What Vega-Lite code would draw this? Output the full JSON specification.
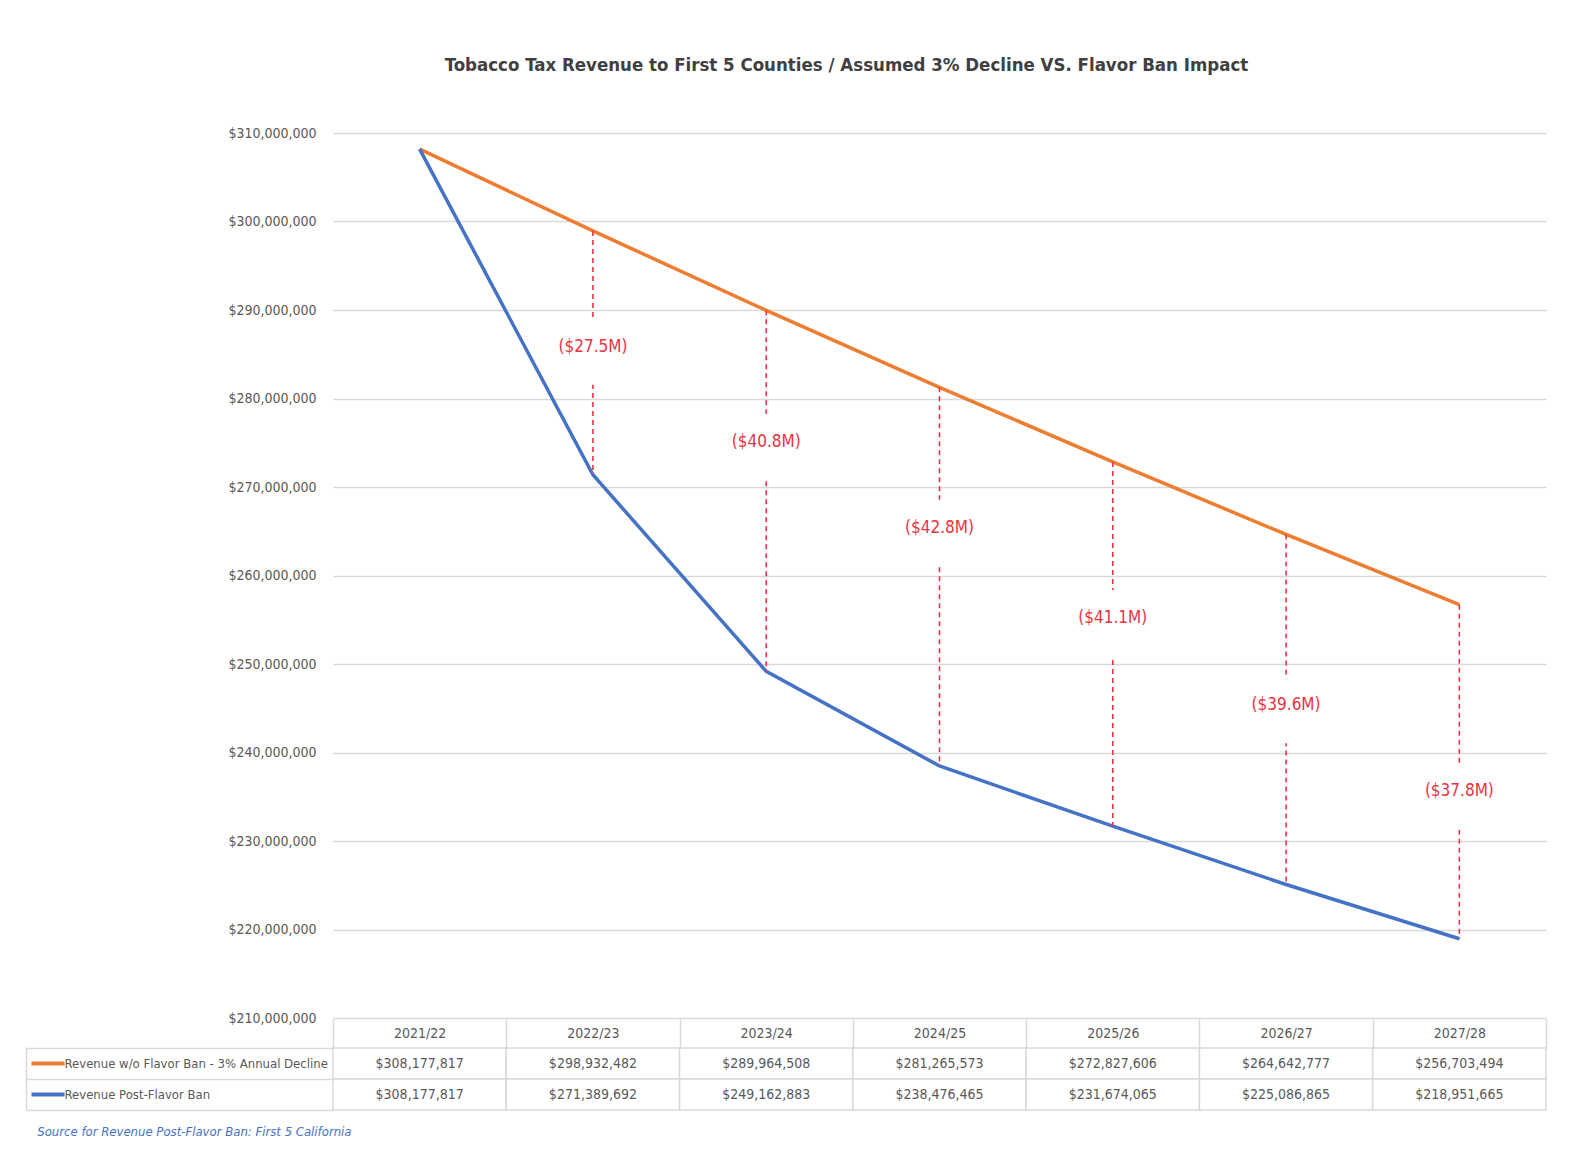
{
  "$schema": "https://vega.github.io/schema/vega-lite/v6.json",
  "padding": {"left": 25, "top": 55, "right": 10, "bottom": 10},
  "autosize": {"type": "pad"},
  "config": {
    "font": "DejaVu Sans Condensed, Liberation Sans Narrow, sans-serif",
    "view": {"stroke": null}
  },
  "title": {
    "text": "Tobacco Tax Revenue to First 5 Counties / Assumed 3% Decline VS. Flavor Ban Impact",
    "fontSize": 18.5,
    "fontWeight": "bold",
    "color": "#404040",
    "anchor": "middle",
    "frame": "group",
    "dx": -93,
    "offset": 52
  },
  "datasets": {
    "rev": [
      {"year": "2021/22", "Revenue w/o Flavor Ban - 3% Annual Decline": 308177817, "Revenue Post-Flavor Ban": 308177817, "gap": null, "label_at": null},
      {"year": "2022/23", "Revenue w/o Flavor Ban - 3% Annual Decline": 298932482, "Revenue Post-Flavor Ban": 271389692, "gap": "($27.5M)", "label_at": 285860000},
      {"year": "2023/24", "Revenue w/o Flavor Ban - 3% Annual Decline": 289964508, "Revenue Post-Flavor Ban": 249162883, "gap": "($40.8M)", "label_at": 275100000},
      {"year": "2024/25", "Revenue w/o Flavor Ban - 3% Annual Decline": 281265573, "Revenue Post-Flavor Ban": 238476465, "gap": "($42.8M)", "label_at": 265400000},
      {"year": "2025/26", "Revenue w/o Flavor Ban - 3% Annual Decline": 272827606, "Revenue Post-Flavor Ban": 231674065, "gap": "($41.1M)", "label_at": 255200000},
      {"year": "2026/27", "Revenue w/o Flavor Ban - 3% Annual Decline": 264642777, "Revenue Post-Flavor Ban": 225086865, "gap": "($39.6M)", "label_at": 245350000},
      {"year": "2027/28", "Revenue w/o Flavor Ban - 3% Annual Decline": 256703494, "Revenue Post-Flavor Ban": 218951665, "gap": "($37.8M)", "label_at": 235600000}
    ]
  },
  "bounds": "flush",
  "spacing": 30,
  "vconcat": [
    {
      "width": 1213,
      "height": 885,
      "data": {"name": "rev"},
      "layer": [
        {
          "transform": [{"fold": ["Revenue w/o Flavor Ban - 3% Annual Decline", "Revenue Post-Flavor Ban"], "as": ["series", "revenue"]}],
          "mark": {"type": "line", "strokeWidth": 3.5},
          "encoding": {
            "x": {"field": "year", "type": "ordinal", "scale": {"type": "band", "paddingInner": 0, "paddingOuter": 0}, "axis": null},
            "y": {
              "field": "revenue", "type": "quantitative",
              "scale": {"domain": [210000000, 310000000], "nice": false, "zero": false},
              "axis": {
                "title": null,
                "values": [210000000, 220000000, 230000000, 240000000, 250000000, 260000000, 270000000, 280000000, 290000000, 300000000, 310000000],
                "format": "$,.0f",
                "grid": true, "gridColor": "#d9d9d9", "gridWidth": 1.5,
                "domain": false, "ticks": false,
                "labelPadding": 17, "labelFontSize": 14, "labelColor": "#595959"
              }
            },
            "color": {
              "field": "series", "type": "nominal",
              "scale": {"domain": ["Revenue w/o Flavor Ban - 3% Annual Decline", "Revenue Post-Flavor Ban"], "range": ["#ED7D31", "#4472C4"]},
              "legend": null
            }
          }
        },
        {
          "transform": [{"filter": "datum.gap != null"}],
          "mark": {"type": "rule", "strokeDash": [5, 4], "strokeWidth": 1.6, "color": "#ee3344"},
          "encoding": {
            "x": {"field": "year", "type": "ordinal"},
            "y": {"field": "Revenue w/o Flavor Ban - 3% Annual Decline", "type": "quantitative"},
            "y2": {"field": "Revenue Post-Flavor Ban"}
          }
        },
        {
          "transform": [{"filter": "datum.gap != null"}],
          "mark": {"type": "square", "size": 4356, "color": "white", "filled": true, "opacity": 1, "yOffset": 5},
          "encoding": {
            "x": {"field": "year", "type": "ordinal"},
            "y": {"field": "label_at", "type": "quantitative"}
          }
        },
        {
          "transform": [{"filter": "datum.gap != null"}],
          "mark": {"type": "text", "fontSize": 17, "color": "#e8333f"},
          "encoding": {
            "x": {"field": "year", "type": "ordinal"},
            "y": {"field": "label_at", "type": "quantitative"},
            "text": {"field": "gap", "type": "nominal"}
          }
        }
      ]
    },
    {
      "width": 1213,
      "height": 62,
      "data": {"name": "rev"},
      "transform": [{"fold": ["Revenue w/o Flavor Ban - 3% Annual Decline", "Revenue Post-Flavor Ban"], "as": ["series", "revenue"]}],
      "title": {
        "text": "Source for Revenue Post-Flavor Ban: First 5 California",
        "orient": "bottom", "anchor": "start", "frame": "bounds",
        "fontStyle": "italic", "fontWeight": "normal", "fontSize": 13,
        "color": "#4472C4", "offset": 15, "dx": 12
      },
      "layer": [
        {
          "mark": {"type": "rect", "fill": "white", "stroke": "#d9d9d9", "strokeWidth": 1.5},
          "encoding": {
            "x": {
              "field": "year", "type": "ordinal",
              "scale": {"type": "band", "paddingInner": 0, "paddingOuter": 0},
              "axis": {
                "orient": "top", "title": null, "domain": false,
                "ticks": true, "tickBand": "extent", "tickSize": 30, "tickColor": "#d9d9d9", "tickWidth": 1.5,
                "labelAngle": 0, "labelPadding": -15, "labelBaseline": "middle",
                "labelFontSize": 14, "labelColor": "#595959"
              }
            },
            "y": {
              "field": "series", "type": "nominal",
              "scale": {"domain": ["Revenue w/o Flavor Ban - 3% Annual Decline", "Revenue Post-Flavor Ban"], "paddingInner": 0, "paddingOuter": 0},
              "axis": {
                "orient": "left", "title": null, "offset": 307,
                "domain": true, "domainColor": "#d9d9d9", "domainWidth": 1.5,
                "ticks": true, "tickBand": "extent", "tickSize": -307, "tickColor": "#d9d9d9", "tickWidth": 1.5,
                "labels": false
              }
            }
          }
        },
        {
          "mark": {"type": "text", "fontSize": 14, "color": "#595959"},
          "encoding": {
            "x": {"field": "year", "type": "ordinal"},
            "y": {
              "field": "series", "type": "nominal",
              "scale": {"domain": ["Revenue w/o Flavor Ban - 3% Annual Decline", "Revenue Post-Flavor Ban"], "paddingInner": 0, "paddingOuter": 0},
              "axis": {
                "orient": "left", "title": null, "offset": 269,
                "domain": false,
                "ticks": true, "tickBand": "center", "tickSize": 33, "tickWidth": 4,
                "tickColor": {"condition": {"test": "datum.value === 'Revenue Post-Flavor Ban'", "value": "#4472C4"}, "value": "#ED7D31"},
                "labelAlign": "left", "labelPadding": -33, "labelFontSize": 13, "labelColor": "#595959", "labelLimit": 400
              }
            },
            "text": {"field": "revenue", "type": "quantitative", "format": "$,.0f"}
          }
        }
      ],
      "resolve": {"scale": {"y": "independent"}, "axis": {"y": "independent"}}
    }
  ]
}
